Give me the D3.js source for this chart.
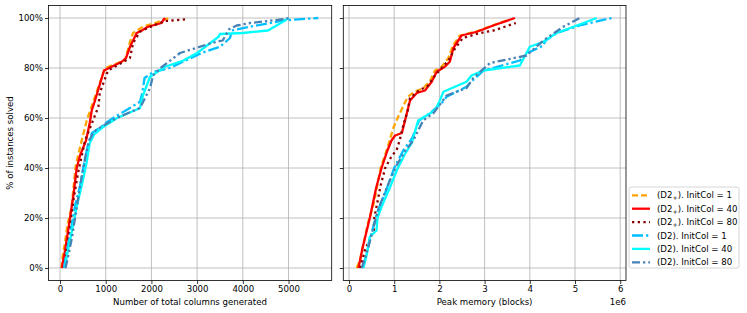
<html>
<head>
<meta charset="utf-8">
<title>Instances solved</title>
<script src="https://cdn.jsdelivr.net/npm/d3@7"></script>
<style>
  body { margin: 0; background: #fff; }
  text { font-family: "DejaVu Sans", sans-serif; fill: #000; }
</style>
</head>
<body>
<script>
// ---- data ----
var pctTicks = [0, 20, 40, 60, 80, 100];
var colTicks = [0, 1000, 2000, 3000, 4000, 5000];
var memTicks = [0, 1, 2, 3, 4, 5, 6]; // x 1e6

var labelFamily = ["D2+", "D2+", "D2+", "D2", "D2", "D2"];
var labelInitCol = [1, 40, 80, 1, 40, 80];

// columns generated vs % solved
var colsD2p1 = [[30,0],[60,5],[100,9],[160,17],[255,24.5],[340,40.5],[440,48.5],[585,59],[766,68.5],[985,80],[1420,83],[1532,90.5],[1598,94],[1816,96.5],[2080,98],[2300,99.5],[2400,100]];
var colsD2p40 = [[40,0],[110,7],[219,20],[300,30],[365,40],[438,45],[569,51],[650,58],[694,63],[766,67],[831,71],[963,79],[1350,82.5],[1444,84],[1532,88.5],[1678,94],[1788,95],[1926,96.5],[2225,98],[2254,99],[2297,100]];
var colsD2p80 = [[100,0],[130,5],[219,16.5],[300,28],[394,38],[547,51],[700,58],[840,64.5],[870,70],[1050,79],[1250,81],[1530,84],[1600,90],[1750,94.5],[2040,97],[2300,98.8],[2800,99.5]];
var colsD2_1 = [[90,0],[140,6],[230,14],[330,25],[440,33],[530,42],[620,50],[700,54],[900,56.5],[1000,58],[1250,61],[1530,64],[1750,66.5],[1800,70],[1850,76],[2050,78.5],[2400,80],[2690,82.5],[3100,86],[3500,88.5],[3720,92],[3760,95],[4160,96.5],[4880,99],[5650,100]];
var colsD2_40 = [[110,0],[150,5],[219,11],[365,24.5],[500,35],[580,42],[650,50],[750,53.5],[912,56],[1250,60],[1750,64],[1815,69],[1970,76.5],[2300,80.5],[2700,83],[3000,86],[3470,92.5],[3500,93.6],[4000,94],[4550,95],[4880,98.5],[5000,100]];
var colsD2_80 = [[120,0],[170,4],[260,12],[380,26],[470,36],[560,45],[640,51],[740,54.5],[900,56.5],[1240,60],[1750,64],[1970,72],[2035,77],[2200,80],[2626,86],[3320,90],[3560,91],[3700,95.5],[3866,97],[4160,98],[4880,99.5],[5030,100]];

// peak memory (1e6 blocks) vs % solved
var memD2p1 = [[0.17,0],[0.24,3],[0.3,8],[0.42,18],[0.55,26],[0.7,40],[0.85,48],[0.98,56],[1.1,61],[1.3,68.5],[1.45,70.5],[1.65,72],[1.8,75],[1.9,79],[2.05,80.5],[2.2,84],[2.3,89],[2.45,93],[2.8,94.5],[3.1,96.5],[3.49,99]];
var memD2p40 = [[0.21,0],[0.3,8],[0.46,20],[0.6,32],[0.72,40],[0.85,47],[0.94,51],[1.02,53],[1.17,54],[1.24,59],[1.35,67],[1.5,70],[1.68,71],[1.83,74.5],[1.94,78.5],[2.12,80.5],[2.23,82.5],[2.31,88],[2.49,93],[2.83,94.5],[3.19,97],[3.67,100]];
var memD2p80 = [[0.25,0],[0.35,7],[0.55,15],[0.56,20],[0.7,33],[0.8,40],[0.95,45],[1.05,47],[1.12,51],[1.2,57],[1.3,63],[1.35,68],[1.55,71],[1.75,73],[1.9,77],[2.05,80],[2.2,83],[2.35,88],[2.52,92],[2.9,94],[3.2,95],[3.69,98]];
var memD2_1 = [[0.3,0],[0.38,5],[0.5,14],[0.62,22],[0.8,30],[1.0,40],[1.2,47],[1.4,52],[1.55,59],[1.8,62],[2.05,66],[2.16,68.5],[2.6,72.5],[2.7,74.5],[2.98,79],[3.78,83],[3.95,86],[4.3,89],[4.35,91],[4.6,94],[5.1,97],[5.81,100]];
var memD2_40 = [[0.32,0],[0.4,6],[0.46,12.5],[0.61,15],[0.63,20],[0.72,24.5],[0.9,32],[1.08,40],[1.25,46],[1.39,50],[1.53,59],[1.9,63],[2.01,67],[2.09,70.5],[2.6,74.5],[2.71,77],[2.97,79],[3.78,81],[4.0,88.5],[4.3,90.5],[4.59,94],[5.04,97],[5.48,100]];
var memD2_80 = [[0.28,0],[0.36,4],[0.48,12],[0.58,19],[0.7,26],[0.88,34],[1.05,41],[1.25,47],[1.42,51],[1.64,59],[1.87,62],[2.16,69],[2.6,72],[2.75,76],[3.12,82],[3.93,85],[4.3,91],[4.74,96.5],[5.11,100]];

var colSeries = [colsD2p1, colsD2p40, colsD2p80, colsD2_1, colsD2_40, colsD2_80];
var memSeries = [memD2p1, memD2p40, memD2p80, memD2_1, memD2_40, memD2_80];

// ---- styles ----
var colors = ["orange", "red", "darkred", "deepskyblue", "cyan", "steelblue"];
var dashes = ["6,3", null, "2.3,3.4", "11,3,2.3,3", null, "8,3,2.3,3,2.3,3"];
var lw = 2.3;
var fs = "8.6px";

var W = 747, H = 313;
var svg = d3.select("body").append("svg").attr("width", W).attr("height", H);

var y = d3.scaleLinear().domain([-5, 105]).range([280.5, 5.5]);
var xCols = d3.scaleLinear().domain([-252, 5945]).range([48.5, 331.7]);
var xMem = d3.scaleLinear().domain([-0.126, 6.128]).range([343.3, 626]);

function panel(x, series, ticks, showY) {
    var g = svg.append("g");
    var x0 = x.range()[0], x1 = x.range()[1];
    var y0 = y.range()[1], y1 = y.range()[0];

    // grid
    g.selectAll(".vg").data(ticks).enter().append("line")
        .attr("x1", function(d) { return x(d); }).attr("x2", function(d) { return x(d); })
        .attr("y1", y0).attr("y2", y1)
        .attr("stroke", "#b0b0b0").attr("stroke-width", 0.8);
    g.selectAll(".hg").data(pctTicks).enter().append("line")
        .attr("x1", x0).attr("x2", x1)
        .attr("y1", function(d) { return y(d); }).attr("y2", function(d) { return y(d); })
        .attr("stroke", "#b0b0b0").attr("stroke-width", 0.8);

    // curves
    var line = d3.line().x(function(d) { return x(d[0]); }).y(function(d) { return y(d[1]); });
    series.forEach(function(s, i) {
        g.append("path").datum(s).attr("d", line)
            .attr("fill", "none")
            .attr("stroke", colors[i])
            .attr("stroke-width", lw)
            .attr("stroke-linejoin", "round")
            .attr("stroke-dasharray", dashes[i]);
    });

    // frame
    g.append("rect").attr("x", x0).attr("y", y0).attr("width", x1 - x0).attr("height", y1 - y0)
        .attr("fill", "none").attr("stroke", "#000").attr("stroke-width", 0.8);

    // x axis
    var xa = g.append("g").attr("transform", "translate(0," + y1 + ")")
        .call(d3.axisBottom(x).tickValues(ticks).tickSize(3.5).tickPadding(2).tickFormat(d3.format("d")));
    xa.select(".domain").remove();
    xa.selectAll("line").attr("stroke", "#000").attr("stroke-width", 0.8);
    xa.selectAll("text").attr("font-size", fs).attr("font-family", "DejaVu Sans").attr("fill", "#000");

    // y axis
    var ya = g.append("g").attr("transform", "translate(" + x0 + ",0)")
        .call(d3.axisLeft(y).tickValues(pctTicks).tickSize(3.5).tickPadding(2)
            .tickFormat(function(d) { return showY ? d + "%" : ""; }));
    ya.select(".domain").remove();
    ya.selectAll("line").attr("stroke", "#000").attr("stroke-width", 0.8);
    ya.selectAll("text").attr("font-size", fs).attr("font-family", "DejaVu Sans").attr("fill", "#000");
    return g;
}

panel(xCols, colSeries, colTicks, true);
panel(xMem, memSeries, memTicks, false);

// axis labels
svg.append("text").attr("x", 190).attr("y", 305).attr("text-anchor", "middle")
    .attr("font-size", fs).text("Number of total columns generated");
svg.append("text").attr("x", 484.6).attr("y", 305).attr("text-anchor", "middle")
    .attr("font-size", fs).text("Peak memory (blocks)");
svg.append("text").attr("x", 626).attr("y", 305).attr("text-anchor", "end")
    .attr("font-size", fs).text("1e6");
svg.append("text").attr("transform", "translate(12.5,143) rotate(-90)").attr("text-anchor", "middle")
    .attr("font-size", fs).text("% of instances solved");

// legend
var lg = svg.append("g").attr("transform", "translate(629,187)");
lg.append("rect").attr("width", 110).attr("height", 81).attr("rx", 2)
    .attr("fill", "#fff").attr("fill-opacity", 0.8).attr("stroke", "#cccccc").attr("stroke-width", 0.8);
var rows = lg.selectAll(".row").data(labelFamily).enter().append("g")
    .attr("transform", function(d, i) { return "translate(0," + (8.3 + i * 13.4) + ")"; });
rows.append("line").attr("x1", 3).attr("x2", 21).attr("y1", 0).attr("y2", 0)
    .attr("stroke", function(d, i) { return colors[i]; })
    .attr("stroke-width", lw)
    .attr("stroke-dasharray", function(d, i) { return dashes[i]; });
var lt = rows.append("text").attr("x", 28).attr("y", 3).attr("font-size", fs);
lt.each(function(d, i) {
    var t = d3.select(this);
    if (d === "D2+") {
        t.append("tspan").text("(D2");
        t.append("tspan").attr("dy", 1.8).attr("font-size", "6.2px").text("+");
        t.append("tspan").attr("dy", -1.8).text("). InitCol = " + labelInitCol[i]);
    } else {
        t.text("(D2). InitCol = " + labelInitCol[i]);
    }
});
</script>
</body>
</html>
